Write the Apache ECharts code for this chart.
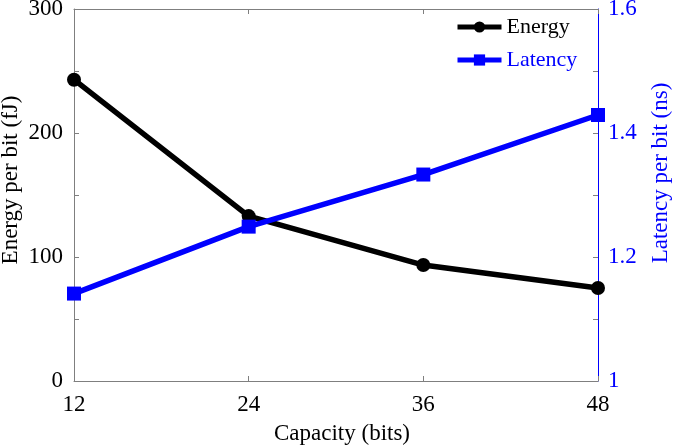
<!DOCTYPE html>
<html><head><meta charset="utf-8">
<script src="https://cdn.jsdelivr.net/npm/echarts@6/dist/echarts.min.js"></script>
<style>html,body{margin:0;padding:0;background:#fff}#c{width:675px;height:447px}</style>
</head><body><div id="c"></div>
<script>
const capacity = [12, 24, 36, 48];
const energy = [243, 133, 93.5, 75];
const latency = [1.141, 1.249, 1.333, 1.429];
const leftTicks = [0, 100, 200, 300];
const rightTicks = [1, 1.2, 1.4, 1.6];

const FONT = 'Liberation Serif';
const chart = echarts.init(document.getElementById('c'));
const gray = '#7f7f7f';
chart.setOption({
  animation: false,
  backgroundColor: '#fff',
  grid: {left: 74, right: 77, top: 9, bottom: 66, outerBoundsMode: 'none', containLabel: false},
  legend: {
    orient: 'vertical', left: 450, top: 11,
    itemWidth: 44, itemHeight: 14, itemGap: 11,
    lineStyle: {width: 5},
    textStyle: {fontFamily: FONT, fontSize: 22, lineHeight: 22},
    data: [
      {name: 'Energy', textStyle: {color: '#000'}},
      {name: 'Latency', textStyle: {color: '#0000ff'}}
    ]
  },
  xAxis: [{
    type: 'value', min: capacity[0], max: capacity[capacity.length-1], interval: 12,
    position: 'bottom',
    name: 'Capacity (bits)', nameLocation: 'middle', nameGap: 41, nameMoveOverlap: false,
    nameTextStyle: {fontFamily: FONT, fontSize: 23, color: '#000', padding: [0, 0, 0, 12]},
    axisLine: {lineStyle: {color: gray, width: 1}},
    axisTick: {inside: true, length: 5, lineStyle: {color: gray}},
    axisLabel: {fontFamily: FONT, fontSize: 23, color: '#000', margin: 12},
    splitLine: {show: false}
  }, {
    type: 'value', min: capacity[0], max: capacity[capacity.length-1], interval: 12,
    position: 'top',
    axisLine: {show: true, lineStyle: {color: gray, width: 1}},
    axisTick: {show: true, inside: true, length: 5, lineStyle: {color: gray}},
    axisLabel: {show: false},
    splitLine: {show: false}
  }],
  yAxis: [{
    type: 'value', min: leftTicks[0], max: leftTicks[leftTicks.length-1], interval: 100,
    position: 'left',
    name: 'Energy per bit (fJ)', nameLocation: 'middle', nameGap: 52, nameRotate: 90,
    nameMoveOverlap: false,
    nameTextStyle: {fontFamily: FONT, fontSize: 23, color: '#000', padding: [0, 0, 0, 30]},
    axisLine: {show: true, lineStyle: {color: gray, width: 1}},
    axisTick: {show: true, inside: true, length: 5, lineStyle: {color: gray}},
    minorTick: {show: true, splitNumber: 2, length: 5, lineStyle: {color: gray}},
    axisLabel: {fontFamily: FONT, fontSize: 23, color: '#000', margin: 11},
    splitLine: {show: false}
  }, {
    type: 'value', min: rightTicks[0], max: rightTicks[rightTicks.length-1], interval: 0.2,
    position: 'right',
    name: 'Latency per bit (ns)', nameLocation: 'middle', nameGap: 51, nameRotate: 90,
    nameMoveOverlap: false,
    nameTextStyle: {fontFamily: FONT, fontSize: 23, color: '#0000ff', padding: [0, 0, 0, 44]},
    axisLine: {show: true, lineStyle: {color: '#0000ff', width: 1}},
    axisTick: {show: true, inside: true, length: 5, lineStyle: {color: gray}},
    minorTick: {show: true, splitNumber: 2, length: 5, lineStyle: {color: gray}},
    axisLabel: {fontFamily: FONT, fontSize: 23, color: '#0000ff', margin: 10,
      formatter: v => String(Math.round(v*10)/10)},
    splitLine: {show: false}
  }],
  series: [{
    name: 'Energy', type: 'line', xAxisIndex: 0, yAxisIndex: 0,
    data: capacity.map((c, i) => [c, energy[i]]),
    symbol: 'circle', symbolSize: 14,
    lineStyle: {color: '#000', width: 5.5},
    itemStyle: {color: '#000'},
    z: 2
  }, {
    name: 'Latency', type: 'line', xAxisIndex: 0, yAxisIndex: 1,
    data: capacity.map((c, i) => [c, latency[i]]),
    symbol: 'rect', symbolSize: 14,
    lineStyle: {color: '#0000ff', width: 5.5},
    itemStyle: {color: '#0000ff'},
    z: 3
  }]
});
</script></body></html>
